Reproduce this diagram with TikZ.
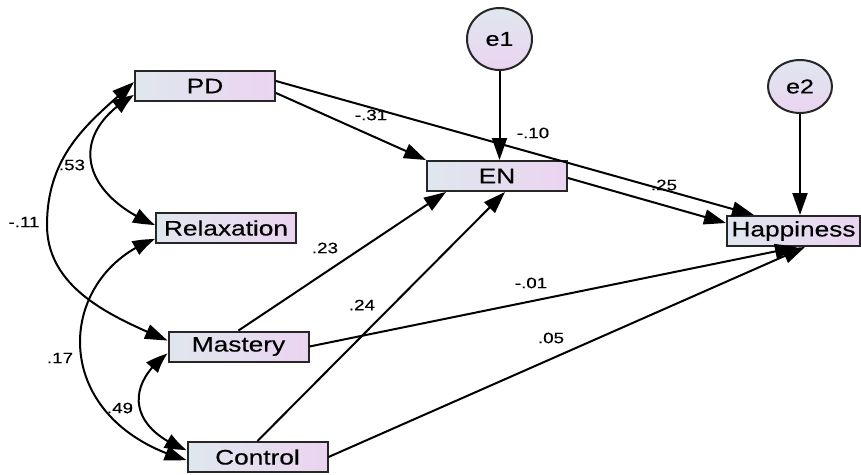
\documentclass[tikz,border=0pt]{standalone}
\usepackage{fontspec}
\setmainfont[FakeBold=0.3]{Liberation Sans}
\usetikzlibrary{arrows.meta,bending,shapes.geometric}
\definecolor{shadeL}{HTML}{DFE7EE}
\definecolor{shadeR}{HTML}{EBD4F1}
% wide sans lettering used throughout the path diagram
\newcommand{\widetext}[1]{\scalebox{1.25}[1]{#1}}

\begin{document}
\begin{tikzpicture}[x=1pt,y=-1pt,
  var/.style={draw=black!85, line width=2pt, left color=shadeL, right color=shadeR,
    minimum width=140pt, minimum height=30pt, inner sep=0pt,
    font=\fontsize{21}{24}\selectfont},
  err/.style={ellipse, draw=black!85, line width=2pt, top color=shadeL, bottom color=shadeR,
    inner sep=0pt, font=\fontsize{20}{24}\selectfont},
  coef/.style={inner sep=0pt, font=\fontsize{15}{18}\selectfont},
  reg/.style={line width=2pt, -{Triangle[length=22pt,width=15pt]}},
  cov/.style={line width=2pt, {Triangle[length=22pt,width=15pt,bend]}-{Triangle[length=22pt,width=15pt,bend]}}
]
\useasboundingbox (0,0) rectangle (861,474);

% observed variables
\node[var] (PD)    at (205,86)    {\widetext{PD}};
\node[var] (Rel)   at (226,228)   {\widetext{Relaxation}};
\node[var] (Mas)   at (238.5,346.5) {\widetext{Mastery}};
\node[var] (Con)   at (257.5,457) {\widetext{Control}};
\node[var] (EN)    at (497,176)   {\widetext{EN}};
\node[var, minimum width=133pt] (Hap) at (793.5,231) {\widetext{Happiness}};

% error terms
\node[err, minimum width=65pt, minimum height=62pt] (e1) at (499.5,39) {\widetext{e1}};
\node[err, minimum width=64pt, minimum height=53pt] (e2) at (800,86.5) {\widetext{e2}};

% regression paths
\draw[reg] ([yshift=-7pt]PD.east) -- (EN.north west);
\draw[reg] ([yshift=5pt]PD.east) -- ([xshift=28pt]Hap.north west);
\draw[reg] ([yshift=-2pt]EN.east) -- ([yshift=-8pt]Hap.north west);
\draw[reg] (e1.south) -- (e1.south |- EN.north);
\draw[reg] (e2.south) -- (e2.south |- Hap.north);
\draw[reg] (Mas.north) -- ([xshift=20pt]EN.south west);
\draw[reg] (Con.north) -- ([xshift=8pt]EN.south);
\draw[reg] (Mas.east) -- ([xshift=3.5pt]Hap.south);
\draw[reg] (Con.east) -- ([xshift=11.5pt]Hap.south);

% covariances among the predictors
\draw[cov] ([yshift=-9pt]PD.west) .. controls (65,135) and (82,195) .. ([yshift=3pt]Rel.west);
\draw[cov] ([yshift=4pt]PD.west) .. controls (95,118) and (47,150) .. (47,225)
           .. controls (47,290) and (115,318) .. ([yshift=6pt]Mas.west);
\draw[cov] ([yshift=-11pt]Rel.west) .. controls (55,275) and (45,420) .. ([yshift=-3pt]Con.west);
\draw[cov] ([yshift=-7pt]Mas.west) .. controls (125,385) and (128,428) .. ([yshift=7pt]Con.west);

% coefficients
\node[coef] (cPDEN)   at (371,115) {\widetext{-.31}};
\node[coef] (cPDHap)  at (533,133) {\widetext{-.10}};
\node[coef] (cENHap)  at (664,185) {\widetext{.25}};
\node[coef] (cMasEN)  at (325,248) {\widetext{.23}};
\node[coef] (cConEN)  at (362,305) {\widetext{.24}};
\node[coef] (cMasHap) at (531,283) {\widetext{-.01}};
\node[coef] (cConHap) at (551,338) {\widetext{.05}};
\node[coef] (cPDRel)  at (72,165)  {\widetext{.53}};
\node[coef] (cPDMas)  at (24,222)  {\widetext{-.11}};
\node[coef] (cRelCon) at (60,358)  {\widetext{.17}};
\node[coef] (cMasCon) at (120,408) {\widetext{.49}};
\end{tikzpicture}
\end{document}
